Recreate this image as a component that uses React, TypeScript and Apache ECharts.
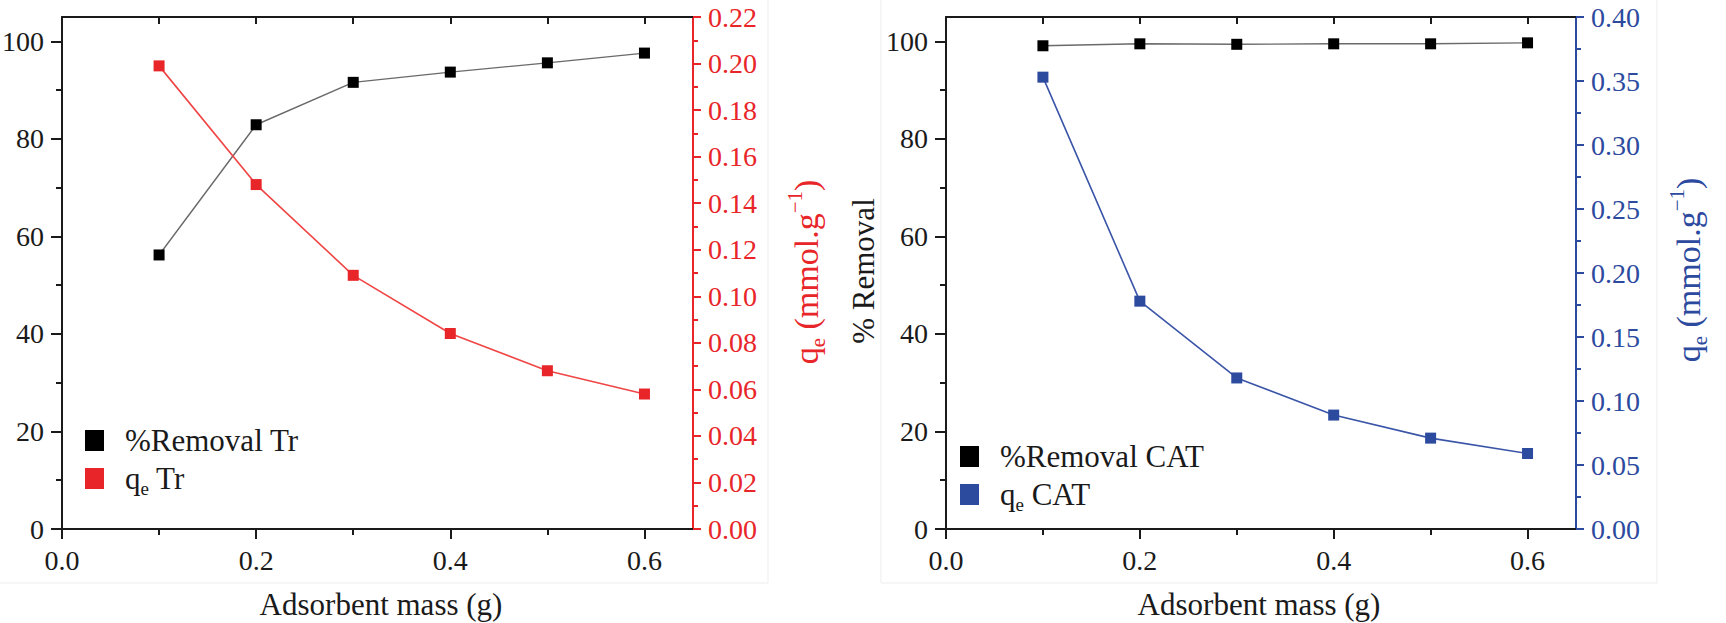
import React, { useEffect, useRef } from 'react';
import * as echarts from 'echarts';

// ---------- data ----------
const masses = [0.1, 0.2, 0.3, 0.4, 0.5, 0.6];
const removalTr = [56.2, 82.9, 91.6, 93.7, 95.6, 97.6];
const qeTr = [0.199, 0.148, 0.109, 0.084, 0.068, 0.058];
const removalCat = [99.1, 99.5, 99.4, 99.5, 99.5, 99.7];
const qeCat = [0.353, 0.178, 0.118, 0.089, 0.071, 0.059];

const xMajorTicks = [0, 0.2, 0.4, 0.6];
const xMinorTicks = [0.1, 0.3, 0.5];
const xTopTicks = [0.1, 0.2, 0.3, 0.4, 0.5, 0.6];
const removalMajorTicks = [0, 20, 40, 60, 80, 100];
const removalMinorTicks = [10, 30, 50, 70, 90];
const qeTrMajorTicks = [0, 0.02, 0.04, 0.06, 0.08, 0.1, 0.12, 0.14, 0.16, 0.18, 0.2, 0.22];
const qeTrMinorTicks = [0.01, 0.03, 0.05, 0.07, 0.09, 0.11, 0.13, 0.15, 0.17, 0.19, 0.21];
const qeCatMajorTicks = [0, 0.05, 0.1, 0.15, 0.2, 0.25, 0.3, 0.35, 0.4];
const qeCatMinorTicks = [0.025, 0.075, 0.125, 0.175, 0.225, 0.275, 0.325, 0.375];

const FONT = "'Liberation Serif', 'Times New Roman', serif";
const BLACK = '#1a1a1a';
const RED = '#e8262a';
const BLUE = '#2c4a9e';

const pairs = (ys: number[]) => masses.map((m, i) => [m, ys[i]]);

function labelRich(color: string) {
  return { t: { fontSize: 28, fontFamily: FONT, color, lineHeight: 30 } };
}

function xMain(gridIndex: number) {
  return {
    type: 'value', gridIndex, position: 'bottom', min: 0, max: 0.65,
    axisLine: { show: true, onZero: false, lineStyle: { color: BLACK, width: 2 } },
    axisTick: { show: true, inside: false, length: 10, customValues: xMajorTicks, lineStyle: { color: BLACK, width: 2 } },
    axisLabel: {
      show: true, customValues: xMajorTicks, margin: 16, fontSize: 28, fontFamily: FONT, color: BLACK,
      formatter: (v: number) => '{t|' + v.toFixed(1) + '}', rich: labelRich(BLACK),
    },
    splitLine: { show: false },
  };
}
function xTop(gridIndex: number) {
  return {
    type: 'value', gridIndex, position: 'top', min: 0, max: 0.65,
    axisLine: { show: true, onZero: false, lineStyle: { color: BLACK, width: 2 } },
    axisTick: { show: true, inside: true, length: 7, customValues: xTopTicks, lineStyle: { color: BLACK, width: 2 } },
    axisLabel: { show: false },
    splitLine: { show: false },
  };
}
function xMinor(gridIndex: number) {
  return {
    type: 'value', gridIndex, position: 'bottom', min: 0, max: 0.65,
    axisLine: { show: false, onZero: false },
    axisTick: { show: true, inside: false, length: 6, customValues: xMinorTicks, lineStyle: { color: BLACK, width: 2 } },
    axisLabel: { show: false },
    splitLine: { show: false },
  };
}
function yAxisDef(gridIndex: number, position: string, max: number, ticks: number[], color: string, digits: number, showLine: boolean, showLabel: boolean, len: number, margin: number) {
  return {
    type: 'value', gridIndex, position, min: 0, max,
    axisLine: { show: showLine, onZero: false, lineStyle: { color, width: 2 } },
    axisTick: { show: true, inside: false, length: len, customValues: ticks, lineStyle: { color, width: 2 } },
    axisLabel: showLabel
      ? {
          show: true, customValues: ticks, margin, fontSize: 28, fontFamily: FONT, color,
          formatter: (v: number) => '{t|' + v.toFixed(digits) + '}', rich: labelRich(color),
        }
      : { show: false },
    splitLine: { show: false },
  };
}

const legendRich = {
  n: { fontSize: 31, fontFamily: FONT, color: BLACK, lineHeight: 38 },
  s: { fontSize: 19, fontFamily: FONT, color: BLACK, lineHeight: 19, verticalAlign: 'bottom' },
};
const legendFormatter = (name: string) => {
  if (name.startsWith('qe ')) return '{n|q}{s|e}{n|' + name.slice(2) + '}';
  return '{n|' + name + '}';
};

function titleRich(color: string) {
  return {
    n: { fontSize: 34, fontFamily: FONT, fill: color, lineHeight: 44 },
    s: { fontSize: 21, fontFamily: FONT, fill: color, lineHeight: 21, verticalAlign: 'bottom' },
    p: { fontSize: 21, fontFamily: FONT, fill: color, lineHeight: 21, verticalAlign: 'top' },
  };
}
const qeTitle = '{n|q}{s|e}{n| (mmol.g}{p|\u22121}{n|)}';

export default function App() {
  const ref = useRef<HTMLDivElement>(null);
  useEffect(() => {
    if (!ref.current) return;
    const chart = echarts.init(ref.current, undefined, { renderer: 'svg' });
    const gridL = { left: 62, right: 1726 - 693, top: 17, bottom: 623 - 529, outerBoundsMode: 'none', containLabel: false };
    const gridR = { left: 946, right: 1726 - 1576, top: 17, bottom: 623 - 529, outerBoundsMode: 'none', containLabel: false };
    const legendCommon = {
      orient: 'vertical', padding: 0, itemWidth: 19, itemHeight: 21, itemGap: 7, icon: 'rect', selectedMode: false,
      formatter: legendFormatter,
      textStyle: { fontSize: 31, fontFamily: FONT, color: BLACK, padding: [0, 0, 0, 16], rich: legendRich },
    };
    const option: any = {
      animation: false,
      backgroundColor: '#ffffff',
      textStyle: { fontFamily: FONT },
      grid: [gridL, { ...gridL }, gridR, { ...gridR }],
      xAxis: [xMain(0), xTop(0), xMinor(1), xMain(2), xTop(2), xMinor(3)],
      yAxis: [
        yAxisDef(0, 'left', 105, removalMajorTicks, BLACK, 0, true, true, 11, 18),
        yAxisDef(0, 'right', 0.22, qeTrMajorTicks, RED, 2, true, true, 8, 15),
        yAxisDef(1, 'left', 105, removalMinorTicks, BLACK, 0, false, false, 6, 18),
        yAxisDef(1, 'right', 0.22, qeTrMinorTicks, RED, 2, false, false, 5, 15),
        yAxisDef(2, 'left', 105, removalMajorTicks, BLACK, 0, true, true, 11, 18),
        yAxisDef(2, 'right', 0.4, qeCatMajorTicks, BLUE, 2, true, true, 8, 15),
        yAxisDef(3, 'left', 105, removalMinorTicks, BLACK, 0, false, false, 6, 18),
        yAxisDef(3, 'right', 0.4, qeCatMinorTicks, BLUE, 2, false, false, 5, 15),
      ],
      legend: [
        { ...legendCommon, data: ['%Removal Tr', 'qe Tr'], left: 85, top: 425 },
        { ...legendCommon, data: ['%Removal CAT', 'qe CAT'], left: 960, top: 441 },
      ],
      series: [
        {
          name: '%Removal Tr', type: 'line', xAxisIndex: 0, yAxisIndex: 0, data: pairs(removalTr),
          symbol: 'rect', symbolSize: 11, itemStyle: { color: '#000000' }, lineStyle: { color: '#6a6a6a', width: 1.4 },
        },
        {
          name: 'qe Tr', type: 'line', xAxisIndex: 0, yAxisIndex: 1, data: pairs(qeTr),
          symbol: 'rect', symbolSize: 11, itemStyle: { color: RED }, lineStyle: { color: '#f04545', width: 1.6 },
        },
        {
          name: '%Removal CAT', type: 'line', xAxisIndex: 3, yAxisIndex: 4, data: pairs(removalCat),
          symbol: 'rect', symbolSize: 11, itemStyle: { color: '#000000' }, lineStyle: { color: '#6a6a6a', width: 1.4 },
        },
        {
          name: 'qe CAT', type: 'line', xAxisIndex: 3, yAxisIndex: 5, data: pairs(qeCat),
          symbol: 'rect', symbolSize: 11, itemStyle: { color: BLUE }, lineStyle: { color: '#3a55a8', width: 1.6 },
        },
      ],
      graphic: [
        // faint panel frames
        { type: 'line', shape: { x1: 768, y1: 0, x2: 768, y2: 583 }, style: { stroke: '#ededed', lineWidth: 1 }, silent: true },
        { type: 'line', shape: { x1: 0, y1: 583, x2: 768, y2: 583 }, style: { stroke: '#ededed', lineWidth: 1 }, silent: true },
        { type: 'line', shape: { x1: 881, y1: 0, x2: 881, y2: 583 }, style: { stroke: '#ededed', lineWidth: 1 }, silent: true },
        { type: 'line', shape: { x1: 1657, y1: 0, x2: 1657, y2: 583 }, style: { stroke: '#ededed', lineWidth: 1 }, silent: true },
        { type: 'line', shape: { x1: 881, y1: 583, x2: 1657, y2: 583 }, style: { stroke: '#ededed', lineWidth: 1 }, silent: true },
        // axis titles
        {
          type: 'text', x: 806, y: 272, rotation: Math.PI / 2, silent: true,
          style: { text: qeTitle, align: 'center', verticalAlign: 'middle', fontFamily: FONT, fontSize: 34, fill: RED, rich: titleRich(RED) },
        },
        {
          type: 'text', x: 1688, y: 270, rotation: Math.PI / 2, silent: true,
          style: { text: qeTitle, align: 'center', verticalAlign: 'middle', fontFamily: FONT, fontSize: 34, fill: BLUE, rich: titleRich(BLUE) },
        },
        {
          type: 'text', x: 863, y: 271, rotation: Math.PI / 2, silent: true,
          style: { text: '% Removal', align: 'center', verticalAlign: 'middle', fontFamily: FONT, fontSize: 31, fill: BLACK },
        },
        {
          type: 'text', x: 381, y: 604, silent: true,
          style: { text: 'Adsorbent mass (g)', align: 'center', verticalAlign: 'middle', fontFamily: FONT, fontSize: 31, fill: BLACK },
        },
        {
          type: 'text', x: 1259, y: 604, silent: true,
          style: { text: 'Adsorbent mass (g)', align: 'center', verticalAlign: 'middle', fontFamily: FONT, fontSize: 31, fill: BLACK },
        },
      ],
    };
    chart.setOption(option);
    return () => chart.dispose();
  }, []);
  return <div ref={ref} style={{ position: 'absolute', left: 0, top: 0, width: 1726, height: 623 }} />;
}
